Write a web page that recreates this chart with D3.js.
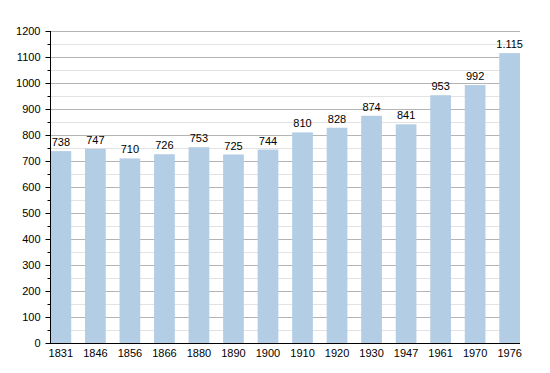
<!DOCTYPE html>
<html>
<head>
<meta charset="utf-8">
<script src="https://cdn.jsdelivr.net/npm/d3@7"></script>
<style>
  body { margin: 0; background: #fff; }
  text { font-family: "Liberation Sans", Arial, sans-serif; font-size: 11px; fill: #000; }
</style>
</head>
<body>
<div id="chart"></div>
<script>
// data
var years = ["1831", "1846", "1856", "1866", "1880", "1890", "1900", "1910", "1920", "1930", "1947", "1961", "1970", "1976"];
var population = [738, 747, 710, 726, 753, 725, 744, 810, 828, 874, 841, 953, 992, 1115];
var yTicks = [0, 100, 200, 300, 400, 500, 600, 700, 800, 900, 1000, 1100, 1200];

var svgWidth = 550;
var svgHeight = 373;

var svg = d3.select("#chart")
  .append("svg")
  .attr("width", svgWidth)
  .attr("height", svgHeight);

// plot area edges (window.top is reserved, so plotTop etc.)
var plotLeft = 50.5, plotRight = 520, plotTop = 31, plotBottom = 343;

var x = d3.scaleBand()
  .domain(years)
  .range([plotLeft, plotRight])
  .paddingInner(0.4)
  .paddingOuter(0);

var y = d3.scaleLinear()
  .domain([0, 1200])
  .range([plotBottom, plotTop]);

// minor gridlines every 50
var minor = d3.range(50, 1200, 100);
svg.append("g").selectAll("line")
  .data(minor)
  .enter()
  .append("line")
  .attr("x1", plotLeft)
  .attr("x2", plotRight)
  .attr("y1", d => Math.round(y(d)) + 0.5)
  .attr("y2", d => Math.round(y(d)) + 0.5)
  .attr("stroke", "#e2e2e2");

// major gridlines
svg.append("g").selectAll("line")
  .data(yTicks.slice(1))
  .enter()
  .append("line")
  .attr("x1", plotLeft)
  .attr("x2", plotRight)
  .attr("y1", d => Math.round(y(d)) + 0.5)
  .attr("y2", d => Math.round(y(d)) + 0.5)
  .attr("stroke", "#b4b4b4");

// bars
svg.append("g").selectAll("rect")
  .data(population)
  .enter()
  .append("rect")
  .attr("x", (d, i) => x(years[i]))
  .attr("y", d => y(d))
  .attr("width", x.bandwidth())
  .attr("height", d => plotBottom - y(d))
  .attr("fill", "#b3cde4");

// value labels
var fmt = d3.formatLocale({ decimal: ",", thousands: ".", grouping: [3], currency: ["", ""] }).format(",");
svg.append("g").selectAll("text")
  .data(population)
  .enter()
  .append("text")
  .attr("x", (d, i) => x(years[i]) + x.bandwidth() / 2)
  .attr("y", d => y(d) - 5)
  .attr("text-anchor", "middle")
  .text(d => fmt(d));

// y axis
var leftAxis = d3.axisLeft(y)
  .tickValues(yTicks)
  .tickSize(5)
  .tickPadding(5)
  .tickFormat(d3.format("d"));

var yAxis = svg.append("g")
  .attr("transform", "translate(50.5,0)")
  .call(leftAxis);
yAxis.select(".domain").attr("d", `M0,${plotTop}V${plotBottom}`).attr("stroke", "#000");
yAxis.selectAll("text").style("font-size", "11px").attr("fill", "#000");

// minor ticks on y axis
yAxis.append("g").selectAll("line")
  .data(minor)
  .enter()
  .append("line")
  .attr("x1", -3)
  .attr("x2", 0)
  .attr("y1", d => Math.round(y(d)) + 0.5)
  .attr("y2", d => Math.round(y(d)) + 0.5)
  .attr("stroke", "#000");

// x axis
var bottomAxis = d3.axisBottom(x).tickSize(0).tickPadding(6);
var xAxis = svg.append("g")
  .attr("transform", `translate(0,${plotBottom + 0.5})`)
  .call(bottomAxis);
xAxis.select(".domain").attr("d", `M${plotLeft - 0.5},0H${plotRight}`).attr("stroke", "#000");
xAxis.selectAll("text").style("font-size", "11px").attr("fill", "#000");
</script>
</body>
</html>
